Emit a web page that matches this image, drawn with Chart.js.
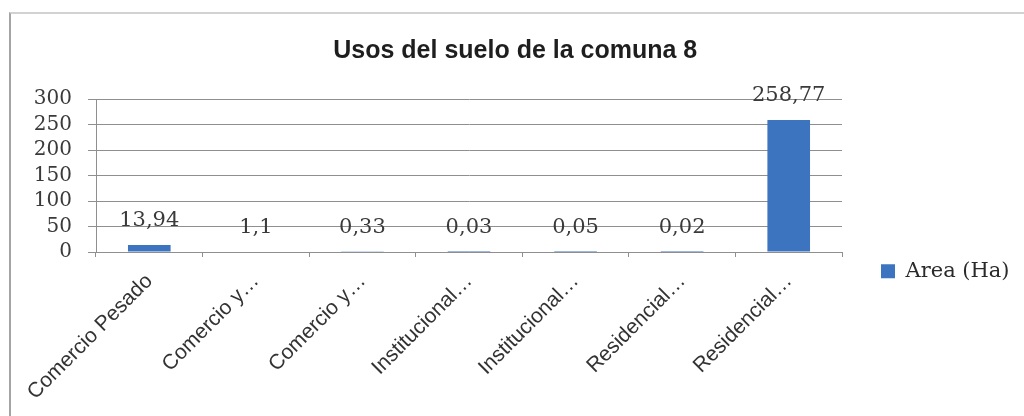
<!DOCTYPE html>
<html>
<head>
<meta charset="utf-8">
<script src="https://cdn.jsdelivr.net/npm/chart.js@4"></script>
<style>
  html, body { margin: 0; padding: 0; background: #fff; }
  #frame {
    position: absolute; left: 9px; top: 12px; width: 1015px; height: 404px;
    box-sizing: border-box; border-top: 2px solid #d2d2d2; border-left: 2px solid #a4a4a4;
  }
  #chart { display: block; }
</style>
</head>
<body>
<div id="frame"><canvas id="chart" width="1013" height="402"></canvas></div>
<script>
// Data
const categories = ['Comercio Pesado', 'Comercio y…', 'Comercio y…', 'Institucional…', 'Institucional…', 'Residencial…', 'Residencial…'];
const areaHa = [13.94, 1.1, 0.33, 0.03, 0.05, 0.02, 258.77];
const seriesName = 'Area (Ha)';
const chartTitle = 'Usos del suelo de la comuna 8';
const yMin = 0, yMax = 300, yStep = 50;

const barBlue = '#3d74c0';
const gridGray = '#8f8f8f';
const textGray = '#333';

// measure legend text so the legend lands where the original one is
const legendFont = { family: '"DejaVu Serif", serif', size: 21 };
const mctx = document.createElement('canvas').getContext('2d');
mctx.font = legendFont.size + 'px ' + legendFont.family;
const legendTextW = mctx.measureText(seriesName).width;
const padRight = Math.max(0, 1013 - 870 - 24 - legendFont.size / 2 - legendTextW);

// value labels above each bar, comma decimals
const valueLabels = {
  id: 'valueLabels',
  afterDatasetsDraw(chart) {
    const ctx = chart.ctx;
    const meta = chart.getDatasetMeta(0);
    ctx.save();
    ctx.font = '21px "DejaVu Serif", serif';
    ctx.fillStyle = '#3a3a3a';
    ctx.textAlign = 'center';
    ctx.textBaseline = 'middle';
    meta.data.forEach((bar, i) => {
      const txt = String(areaHa[i]).replace('.', ',');
      ctx.fillText(txt, bar.x, bar.y - 24);
    });
    ctx.restore();
  }
};

new Chart(document.getElementById('chart'), {
  type: 'bar',
  data: {
    labels: categories,
    datasets: [{
      label: seriesName,
      data: areaHa,
      backgroundColor: barBlue,
      borderWidth: 0,
      categoryPercentage: 1,
      barPercentage: 0.4
    }]
  },
  options: {
    responsive: false,
    animation: false,
    layout: { padding: { left: 0, top: 0, bottom: 0, right: padRight } },
    plugins: {
      title: {
        display: true,
        text: chartTitle,
        color: '#1e1e1e',
        font: { family: '"Liberation Sans", Arial, sans-serif', size: 25, weight: 'bold' },
        padding: { top: 22, bottom: 33 }
      },
      legend: {
        position: 'right',
        align: 'center',
        maxWidth: 182,
        title: { display: true, text: '', padding: { top: 98, bottom: 0 } },
        labels: {
          boxWidth: 14,
          boxHeight: 14,
          padding: 39,
          color: '#2a2a2a',
          font: legendFont
        }
      },
      tooltip: { enabled: false }
    },
    scales: {
      x: {
        grid: { display: true, drawOnChartArea: false, drawTicks: true, tickLength: 5, offset: true, color: gridGray },
        border: { display: true, color: gridGray, width: 1 },
        ticks: {
          autoSkip: false,
          minRotation: 45,
          maxRotation: 45,
          padding: 12,
          color: textGray,
          font: { family: '"Liberation Sans", Arial, sans-serif', size: 21 }
        },
        afterFit(scale) { scale.height = 164; }
      },
      y: {
        min: yMin,
        max: yMax,
        grid: { color: gridGray, lineWidth: 1, tickLength: 8 },
        border: { display: true, color: gridGray, width: 1 },
        ticks: {
          stepSize: yStep,
          autoSkip: false,
          padding: 16,
          color: '#3a3a3a',
          font: { family: '"DejaVu Serif", serif', size: 20 }
        },
        afterFit(scale) { scale.width = 85; }
      }
    }
  },
  plugins: [valueLabels]
});
</script>
</body>
</html>
